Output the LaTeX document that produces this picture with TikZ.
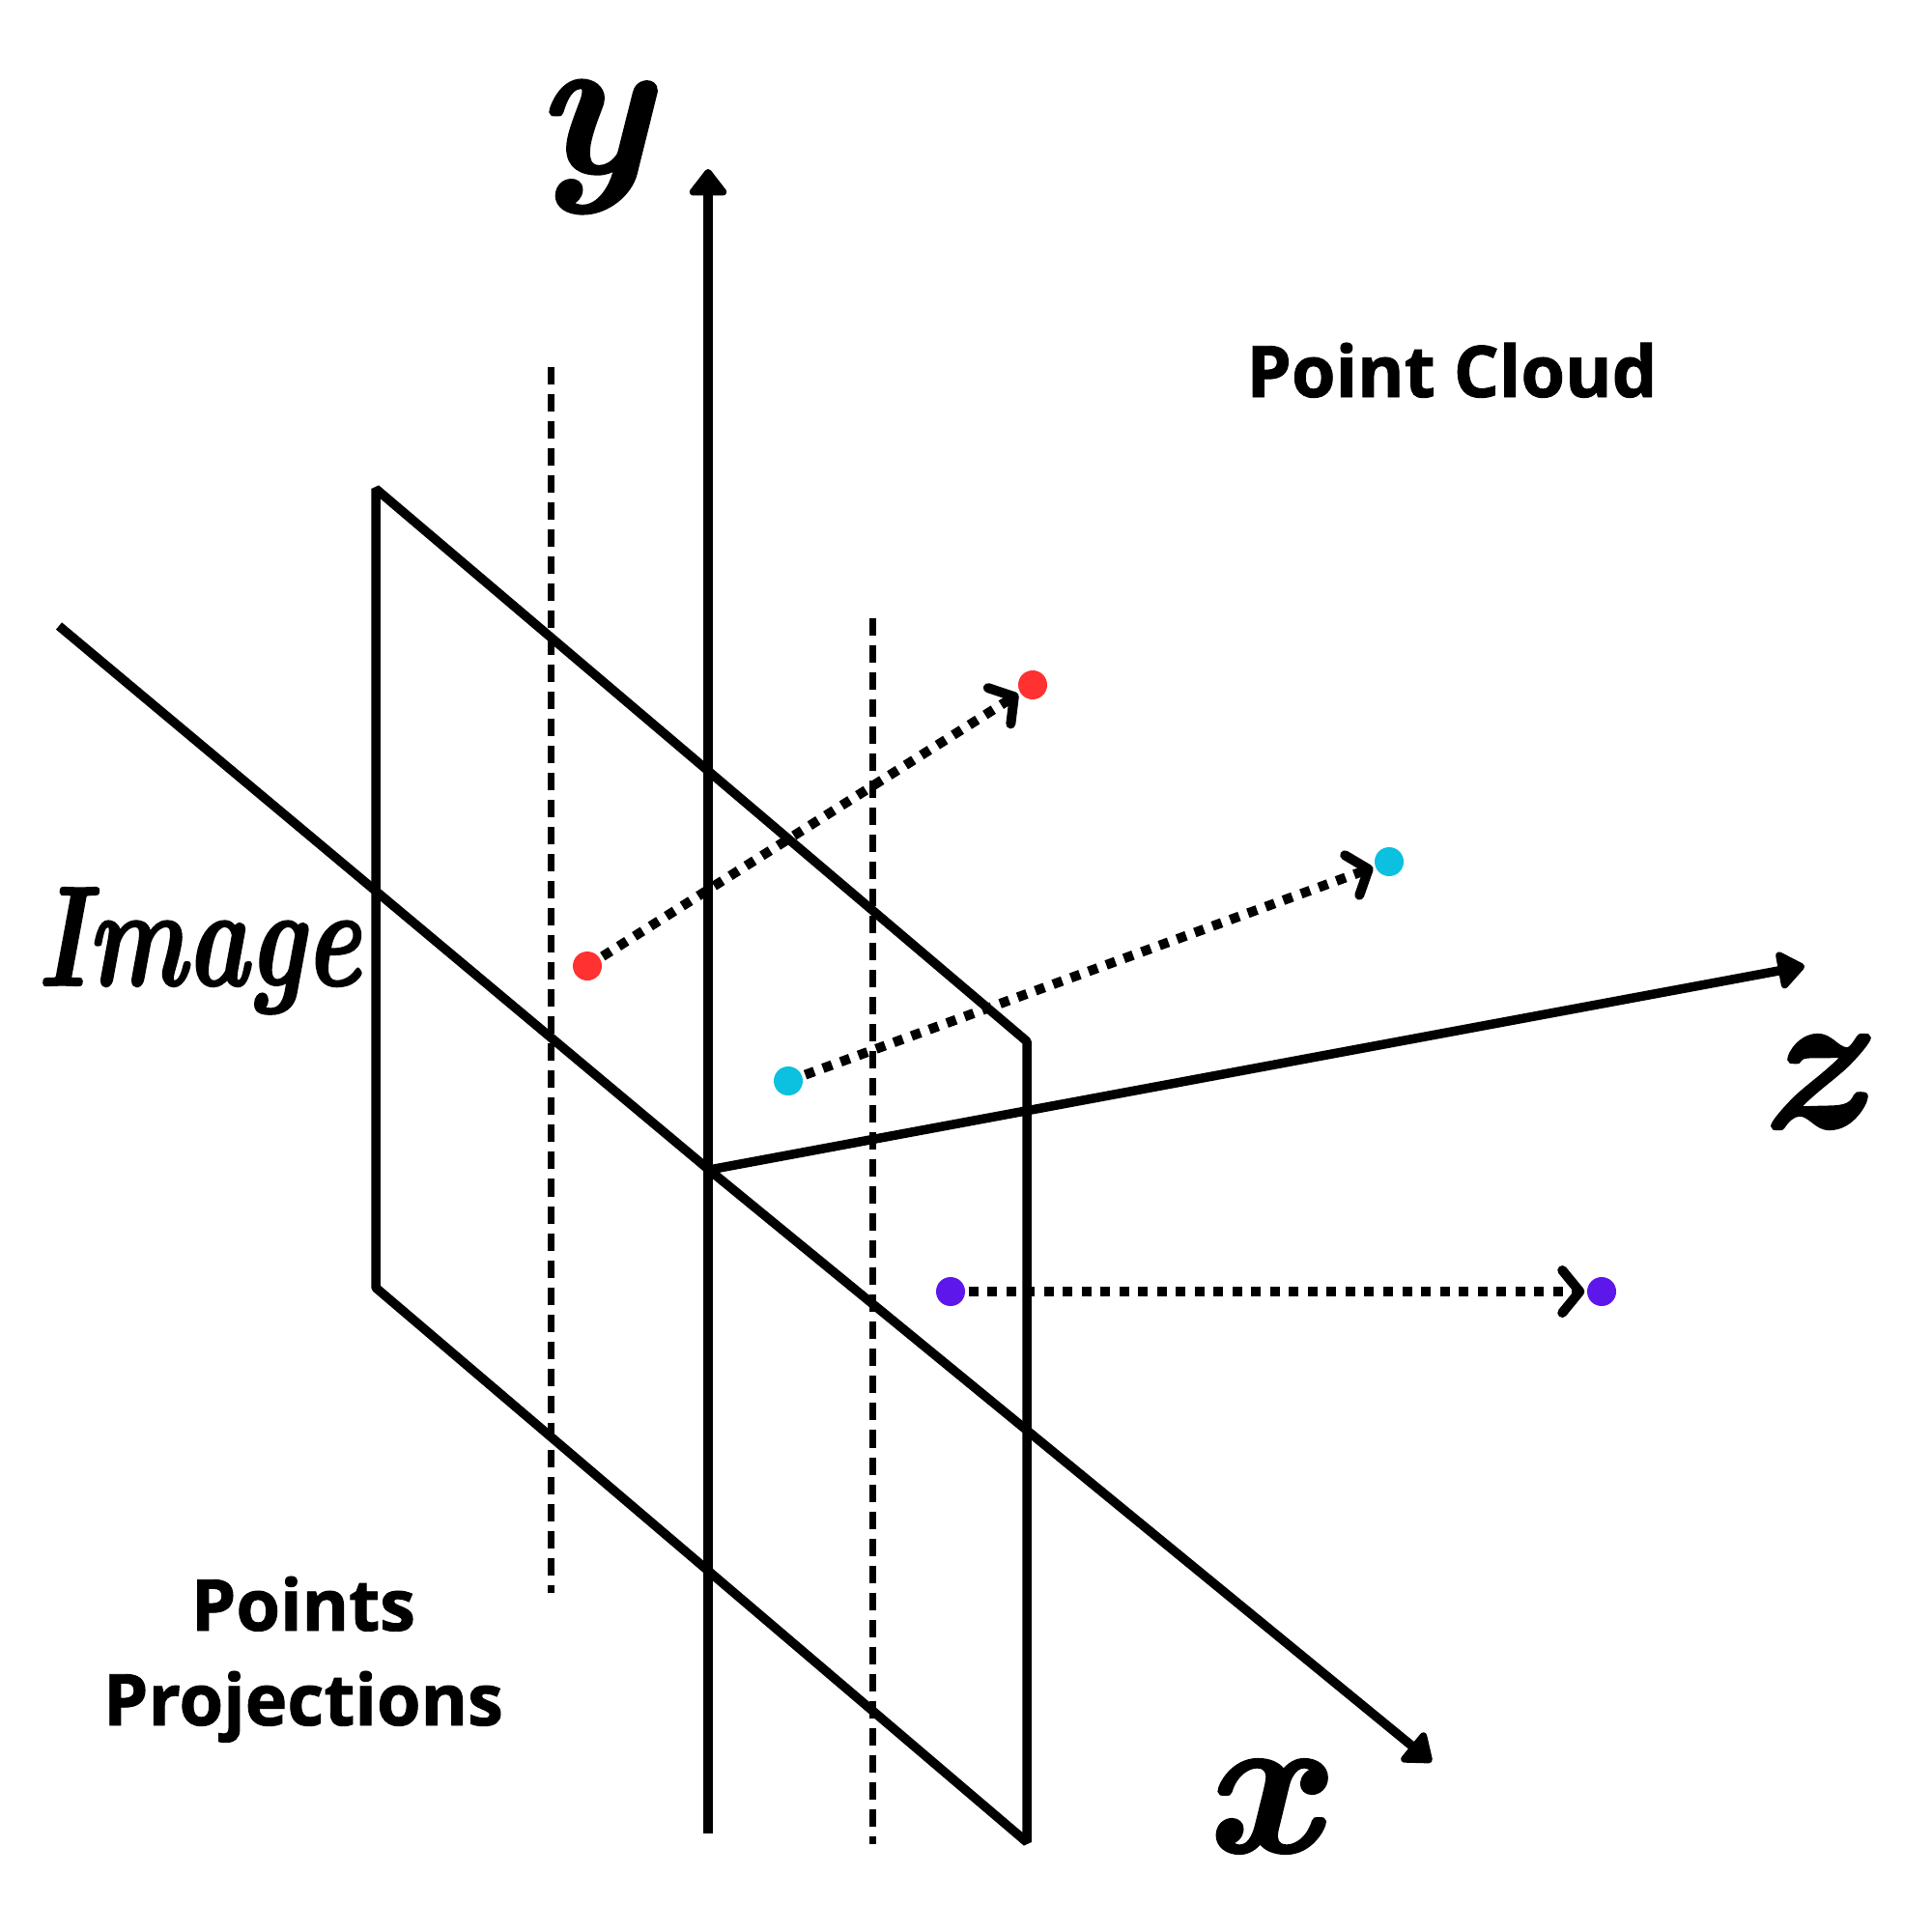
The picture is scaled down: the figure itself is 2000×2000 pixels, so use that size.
\documentclass[tikz,border=0pt]{standalone}
\usepackage{fontspec}
\newfontfamily\osans{Open Sans}[BoldFeatures={FakeBold=1.2}]
\newfontfamily\handfont{Latin Modern Roman}[BoldItalicFeatures={FakeBold=1.5}]
\usetikzlibrary{arrows.meta}
\definecolor{dred}{HTML}{FF3131}
\definecolor{dcyan}{HTML}{0CC0DF}
\definecolor{dpurple}{HTML}{5E17EB}
\tikzset{
  axisline/.style={line width=0.095cm, -{Triangle[length=0.30cm,width=0.44cm,round]}},
  planeline/.style={line width=0.095cm, line join=bevel},
  dashline/.style={line width=0.07cm, dash pattern=on 0.18cm off 0.10cm},
  dotarrow/.style={line width=0.10cm, dash pattern=on 0.10cm off 0.095cm, -{Straight Barb[length=0.18cm,width=0.44cm,round]}, shorten >=0.02cm, shorten <=0.03cm},
  dotnode/.style={circle, inner sep=0pt, minimum size=0.30cm},
  boldlabel/.style={font=\osans\bfseries\fontsize{21}{25}\selectfont, inner sep=0pt, anchor=base},
  scriptlabel/.style={font=\handfont\bfseries\itshape\fontsize{60}{70}\selectfont, inner sep=0pt}
}
\begin{document}
\begin{tikzpicture}[x=0.01cm, y=-0.01cm]
\useasboundingbox (0,0) rectangle (2000,2000);
\fill[white] (0,0) rectangle (2000,2000);

% plane
\coordinate (p1) at (389,506);
\coordinate (p2) at (1063,1078);
\coordinate (p3) at (1063,1907);
\coordinate (p4) at (389,1333);
\draw[planeline] (p1) -- (p2) -- (p3) -- (p4) -- cycle;

% dashed lines
\coordinate (d1a) at (570,380);
\coordinate (d1b) at (570,1649);
\coordinate (d2a) at (903,640);
\coordinate (d2b) at (903,1909);
\draw[dashline] (d1a) -- (d1b);
\draw[dashline] (d2a) -- (d2b);

% axes
\coordinate (O) at (734,1211);
\coordinate (ybot) at (733,1898);
\coordinate (ytop) at (733,175);
\coordinate (xs) at (61,648);
\coordinate (xe) at (1482,1824);
\coordinate (ze) at (1868,1000);
\draw[axisline] (ybot) -- (ytop);
\draw[axisline] (xs) -- (O) -- (xe);
\draw[axisline] (O) -- (ze);

% points
\node[dotnode, fill=dred] (rp) at (608,1000) {};
\node[dotnode, fill=dred] (rc) at (1069,709) {};
\node[dotnode, fill=dcyan] (cp) at (816,1119) {};
\node[dotnode, fill=dcyan] (cc) at (1438,892) {};
\node[dotnode, fill=dpurple] (pp) at (984,1337) {};
\node[dotnode, fill=dpurple] (pc) at (1658,1337) {};
\draw[dotarrow] (rp) -- (rc);
\draw[dotarrow] (cp) -- (cc);
\draw[dotarrow] (pp) -- (pc);

% labels
\node[boldlabel] (pcl) at (1503,411) {Point Cloud};
\node[boldlabel] (ppl1) at (314,1688) {Points};
\node[boldlabel] (ppl2) at (314,1786) {Projections};
\node[scriptlabel] (ylab) at (613,152) {y};
\node[scriptlabel] (zlab) at (1873,1120) {z};
\node[scriptlabel] (xlab) at (1305,1870) {x};
\node[scriptlabel, font=\handfont\bfseries\itshape\fontsize{31}{40}\selectfont, anchor=base] (imlab) at (206,1020) {\scalebox{1}[1.35]{Image}};
\end{tikzpicture}
\end{document}
